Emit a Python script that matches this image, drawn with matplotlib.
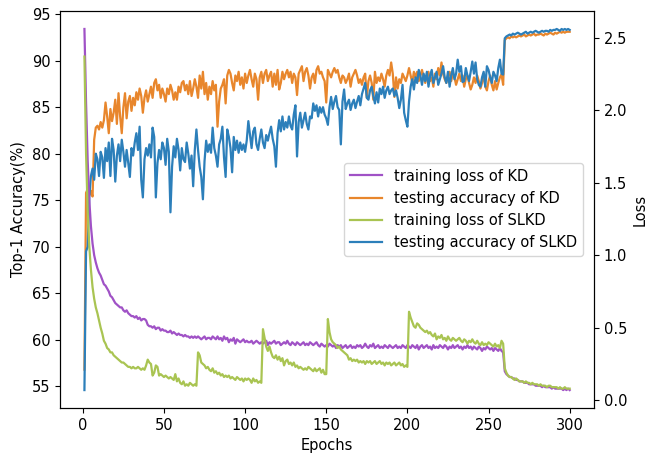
import numpy as np
import matplotlib
matplotlib.use('Agg')
import matplotlib.pyplot as plt

plt.rcParams['font.size'] = 10.5

# valores, una fila = 10 epocas
acc_kd = [
    56.8, 75.8, 76.2, 75.5, 76.0, 75.4, 81.5, 82.8, 83.0, 82.6,
    83.4, 82.8, 83.6, 85.5, 84.0, 82.2, 84.8, 83.5, 84.4, 85.8,
    83.2, 86.5, 84.0, 82.2, 85.0, 86.5, 83.8, 85.6, 86.2, 84.6,
    86.0, 85.2, 86.6, 85.8, 87.0, 86.2, 84.4, 86.0, 86.8, 85.6,
    86.4, 87.2, 86.0, 87.6, 88.0, 86.8, 87.4, 86.0, 87.0, 86.4,
    85.6, 87.0, 86.4, 87.4, 86.8, 85.8, 86.6, 85.8, 87.2, 86.6,
    87.6, 87.8, 86.8, 87.4, 86.4, 87.8, 86.2, 87.0, 88.0, 87.2,
    86.0, 88.4, 87.0, 88.8, 86.4, 87.6, 85.8, 87.2, 86.4, 87.8,
    86.8, 87.4, 82.9, 85.6, 87.0, 87.4, 88.0, 85.4, 88.4, 89.0,
    88.6, 87.6, 86.8, 88.4, 87.8, 88.8, 87.4, 88.2, 87.0, 88.6,
    87.6, 88.4, 89.0, 88.0, 87.2, 88.6, 88.0, 85.8, 88.2, 88.8,
    87.6, 88.6, 89.0, 87.8, 88.4, 88.8, 87.2, 88.6, 87.4, 89.0,
    86.9, 87.6, 88.8, 88.0, 88.6, 89.0, 88.2, 88.8, 87.6, 88.6,
    88.2, 86.3, 88.6, 89.0, 89.4, 87.8, 88.8, 89.2, 88.4, 87.0,
    88.2, 88.6, 87.6, 89.0, 89.4, 88.6, 88.8, 88.2, 87.8, 85.5,
    89.0, 88.6, 88.2, 88.8, 89.2, 88.7, 89.0, 88.2, 87.6, 88.4,
    88.2, 87.6, 88.0, 88.6, 87.2, 88.2, 88.6, 89.0, 88.4, 87.6,
    88.0, 87.4, 88.2, 88.6, 86.0, 87.8, 88.4, 87.6, 85.8, 88.8,
    87.6, 88.2, 87.8, 88.6, 88.0, 87.2, 88.4, 89.0, 88.4, 89.8,
    88.6, 86.1, 88.2, 87.0, 88.0, 87.6, 88.6, 88.2, 87.8, 88.4,
    89.2, 88.4, 87.6, 88.8, 88.2, 88.8, 87.8, 88.4, 89.0, 88.2,
    87.6, 88.4, 88.8, 87.8, 88.2, 87.2, 88.6, 88.0, 89.2, 88.4,
    89.8, 88.6, 88.0, 87.6, 88.4, 88.8, 87.8, 88.6, 88.2, 87.4,
    88.0, 88.6, 87.8, 88.4, 87.2, 88.0, 88.4, 87.6, 86.9, 87.4,
    88.2, 87.6, 88.4, 87.8, 87.0, 87.6, 88.6, 87.2, 86.8, 87.8,
    88.4, 87.4, 86.8, 87.8, 86.9, 87.6, 88.2, 88.5, 87.4, 92.2,
    92.4, 92.5, 92.4, 92.6, 92.5, 92.6, 92.5, 92.6, 92.7, 92.6,
    92.7, 92.8, 92.6, 92.7, 92.8, 92.7, 92.8, 92.9, 92.7, 92.8,
    92.8, 92.9, 92.8, 92.7, 92.9, 92.8, 92.9, 93.0, 92.9, 92.8,
    93.0, 92.9, 93.0, 93.1, 93.0, 93.1, 93.0, 93.1, 93.1, 93.1,
]

acc_slkd = [
    54.6, 69.5, 70.0, 75.4, 77.6, 78.4, 77.2, 80.0, 79.4, 77.6,
    80.2, 79.6, 77.4, 80.6, 79.2, 81.2, 77.6, 81.6, 80.4, 77.0,
    79.8, 81.0, 79.2, 81.5, 80.2, 78.6, 80.4, 79.0, 77.5, 80.6,
    79.8, 81.2, 82.2, 80.4, 82.9, 77.2, 75.3, 79.4, 80.6, 79.8,
    81.0, 79.6, 82.8, 81.8, 75.3, 79.0, 80.4, 79.4, 81.2, 80.6,
    78.8, 81.6, 80.2, 73.7, 78.6, 80.8, 79.6, 81.6, 80.4, 78.2,
    80.6, 79.4, 79.1, 81.2, 80.0, 78.4, 79.8, 76.5, 80.4, 82.6,
    80.4, 78.6, 77.5, 75.1, 79.2, 81.4, 80.2, 81.0, 80.1, 82.8,
    80.6, 79.8, 78.6, 81.0, 81.6, 82.9, 79.6, 77.5, 82.6, 81.8,
    80.6, 78.0, 81.8, 80.4, 81.4, 80.1, 81.2, 80.4, 81.0, 80.2,
    81.4, 83.5, 82.0, 80.6, 82.4, 82.8, 81.0, 80.4, 81.6, 82.6,
    81.2, 80.6, 82.0, 81.4, 82.2, 82.9, 81.6, 80.8, 78.6, 82.2,
    83.6, 82.4, 84.0, 82.6, 83.4, 82.8, 84.0, 83.0, 82.6, 84.2,
    85.2, 79.7, 83.4, 84.4, 82.8, 83.6, 84.4, 83.2, 82.6, 84.0,
    83.8, 85.4, 84.6, 85.2, 84.0, 85.0, 84.4, 85.0, 84.2, 83.8,
    83.1, 85.0, 86.1, 84.8, 85.6, 86.2, 85.0, 84.7, 81.0, 85.6,
    86.9, 84.8, 85.4, 85.8, 84.7, 85.4, 85.8, 84.9, 85.6, 86.2,
    85.2, 86.4, 87.0, 87.6, 86.0, 85.8, 86.8, 87.2, 86.2, 85.4,
    86.6, 85.5, 87.0, 86.4, 87.2, 86.0, 86.8, 87.2, 86.4, 86.8,
    87.0, 86.2, 86.8, 86.0, 84.9, 85.8, 87.4, 84.4, 83.6, 82.9,
    85.6, 87.2, 88.0, 86.9, 88.2, 87.6, 89.0, 88.4, 87.4, 88.6,
    87.8, 88.8, 87.2, 88.4, 89.0, 87.6, 88.2, 88.8, 87.4, 88.0,
    88.6, 89.4, 88.2, 87.6, 88.8, 87.2, 88.4, 89.2, 88.0, 88.6,
    90.1, 88.8, 89.4, 87.7, 87.8, 89.2, 88.4, 87.8, 88.8, 89.9,
    88.6, 89.8, 88.0, 87.4, 87.2, 88.2, 88.8, 87.2, 89.4, 89.0,
    88.2, 87.6, 88.8, 88.4, 87.8, 89.2, 90.1, 88.6, 88.5, 92.4,
    92.6, 92.7, 92.8, 92.7, 92.9, 92.8, 92.9, 93.0, 92.9, 92.8,
    92.9, 93.0, 93.1, 92.9, 93.0, 93.1, 93.0, 93.1, 93.2, 93.1,
    93.0, 93.1, 93.2, 93.1, 93.2, 93.2, 93.1, 93.3, 93.2, 93.3,
    93.3, 93.4, 93.3, 93.2, 93.4, 93.3, 93.4, 93.3, 93.4, 93.3,
]

loss_kd = [
    2.56, 2.05, 1.65, 1.38, 1.20, 1.08, 1.00, 0.95, 0.91, 0.88,
    0.86, 0.83, 0.80, 0.79, 0.77, 0.75, 0.72, 0.71, 0.69, 0.67,
    0.66, 0.65, 0.64, 0.64, 0.62, 0.61, 0.62, 0.60, 0.59, 0.58,
    0.58, 0.57, 0.58, 0.56, 0.57, 0.55, 0.56, 0.56, 0.55, 0.52,
    0.51, 0.51, 0.50, 0.51, 0.49, 0.50, 0.50, 0.48, 0.49, 0.48,
    0.48, 0.47, 0.47, 0.48, 0.46, 0.47, 0.46, 0.45, 0.46, 0.45,
    0.45, 0.44, 0.45, 0.44, 0.44, 0.43, 0.44, 0.43, 0.44, 0.43,
    0.44, 0.43, 0.42, 0.43, 0.44, 0.42, 0.43, 0.43, 0.42, 0.44,
    0.43, 0.42, 0.44, 0.42, 0.43, 0.41, 0.44, 0.42, 0.43, 0.40,
    0.42, 0.41, 0.43, 0.39, 0.42, 0.41, 0.40, 0.41, 0.42, 0.40,
    0.41, 0.40, 0.40, 0.41, 0.39, 0.40, 0.41, 0.40, 0.39, 0.40,
    0.39, 0.40, 0.41, 0.38, 0.40, 0.39, 0.40, 0.41, 0.39, 0.40,
    0.40, 0.38, 0.39, 0.40, 0.39, 0.41, 0.39, 0.38, 0.40, 0.39,
    0.38, 0.40, 0.39, 0.38, 0.39, 0.40, 0.38, 0.39, 0.38, 0.40,
    0.39, 0.38, 0.39, 0.40, 0.38, 0.37, 0.39, 0.38, 0.37, 0.38,
    0.37, 0.39, 0.38, 0.37, 0.38, 0.36, 0.38, 0.37, 0.38, 0.36,
    0.37, 0.38, 0.36, 0.37, 0.38, 0.36, 0.37, 0.36, 0.38, 0.37,
    0.38, 0.36, 0.37, 0.39, 0.37, 0.36, 0.38, 0.37, 0.39, 0.36,
    0.37, 0.38, 0.36, 0.37, 0.36, 0.38, 0.37, 0.36, 0.38, 0.37,
    0.36, 0.37, 0.38, 0.36, 0.37, 0.36, 0.38, 0.37, 0.36, 0.38,
    0.37, 0.36, 0.38, 0.37, 0.36, 0.38, 0.35, 0.37, 0.38, 0.36,
    0.37, 0.38, 0.36, 0.37, 0.35, 0.38, 0.36, 0.37, 0.36, 0.38,
    0.37, 0.36, 0.38, 0.37, 0.35, 0.37, 0.36, 0.38, 0.36, 0.37,
    0.38, 0.36, 0.37, 0.35, 0.37, 0.36, 0.38, 0.36, 0.37, 0.35,
    0.37, 0.36, 0.35, 0.37, 0.36, 0.34, 0.36, 0.35, 0.37, 0.36,
    0.35, 0.36, 0.34, 0.36, 0.35, 0.34, 0.36, 0.34, 0.33, 0.20,
    0.18, 0.17, 0.16, 0.16, 0.15, 0.15, 0.14, 0.14, 0.13, 0.13,
    0.13, 0.12, 0.12, 0.12, 0.11, 0.11, 0.11, 0.11, 0.10, 0.10,
    0.10, 0.10, 0.09, 0.10, 0.09, 0.09, 0.09, 0.09, 0.08, 0.09,
    0.08, 0.08, 0.08, 0.08, 0.08, 0.07, 0.08, 0.07, 0.08, 0.07,
]

loss_slkd = [
    2.37, 1.70, 1.30, 1.06, 0.90, 0.78, 0.70, 0.64, 0.60, 0.55,
    0.50, 0.46, 0.41, 0.39, 0.36, 0.35, 0.33, 0.33, 0.31, 0.30,
    0.29, 0.28, 0.27, 0.26, 0.26, 0.25, 0.24, 0.23, 0.23, 0.22,
    0.23, 0.22, 0.22, 0.23, 0.22, 0.21, 0.22, 0.21, 0.24, 0.28,
    0.26, 0.25, 0.17, 0.19, 0.24, 0.23, 0.17, 0.18, 0.17, 0.16,
    0.17, 0.16, 0.15, 0.16, 0.15, 0.14, 0.18, 0.13, 0.15, 0.12,
    0.11, 0.13, 0.10, 0.11, 0.10, 0.12, 0.11, 0.10, 0.11, 0.10,
    0.33, 0.31, 0.26, 0.25, 0.24, 0.22, 0.23, 0.21, 0.20, 0.22,
    0.19, 0.20, 0.18, 0.19, 0.17, 0.18, 0.16, 0.17, 0.16, 0.17,
    0.15, 0.16, 0.15, 0.14, 0.16, 0.15, 0.14, 0.15, 0.13, 0.15,
    0.14, 0.15, 0.14, 0.12, 0.15, 0.13, 0.14, 0.12, 0.13, 0.12,
    0.49, 0.43, 0.37, 0.34, 0.37, 0.33, 0.30, 0.29, 0.31, 0.28,
    0.30, 0.27, 0.29, 0.24, 0.27, 0.28, 0.25, 0.26, 0.24, 0.26,
    0.23, 0.24, 0.22, 0.23, 0.22, 0.21, 0.22, 0.21, 0.23, 0.22,
    0.21, 0.20, 0.22, 0.20, 0.21, 0.22, 0.19, 0.21, 0.18, 0.18,
    0.56, 0.47, 0.42, 0.40, 0.39, 0.38, 0.36, 0.37, 0.35, 0.34,
    0.33, 0.32, 0.31, 0.28, 0.29, 0.27, 0.28, 0.27, 0.28, 0.26,
    0.27, 0.26, 0.27, 0.25, 0.27, 0.26, 0.27, 0.25, 0.26, 0.27,
    0.25, 0.26, 0.27, 0.25, 0.26, 0.24, 0.26, 0.25, 0.26, 0.24,
    0.25, 0.26, 0.24, 0.25, 0.26, 0.24, 0.25, 0.23, 0.24, 0.23,
    0.61, 0.57, 0.54, 0.51, 0.50, 0.53, 0.52, 0.50, 0.49, 0.48,
    0.47, 0.48, 0.46, 0.47, 0.45, 0.44, 0.46, 0.42, 0.44, 0.43,
    0.45, 0.42, 0.43, 0.41, 0.44, 0.42, 0.41, 0.43, 0.42, 0.41,
    0.42, 0.43, 0.41, 0.40, 0.42, 0.41, 0.39, 0.41, 0.40, 0.42,
    0.40, 0.39, 0.41, 0.39, 0.38, 0.40, 0.38, 0.39, 0.38, 0.40,
    0.39, 0.38, 0.37, 0.39, 0.37, 0.38, 0.36, 0.41, 0.39, 0.22,
    0.19, 0.17, 0.16, 0.16, 0.15, 0.14, 0.15, 0.14, 0.13, 0.13,
    0.13, 0.12, 0.13, 0.12, 0.12, 0.11, 0.12, 0.11, 0.11, 0.11,
    0.10, 0.11, 0.10, 0.10, 0.10, 0.09, 0.10, 0.10, 0.09, 0.09,
    0.09, 0.09, 0.08, 0.09, 0.08, 0.08, 0.09, 0.08, 0.08, 0.08,
]

epochs = np.arange(1, len(acc_kd) + 1)

fig, ax1 = plt.subplots(figsize=(6.47, 4.55), dpi=100)
fig.subplots_adjust(left=0.093, right=0.918, top=0.976, bottom=0.103)
ax2 = ax1.twinx()

l2, = ax1.plot(epochs, acc_kd, color='#e8862c', lw=1.6, label='testing accuracy of KD')
l4, = ax1.plot(epochs, acc_slkd, color='#2c7fba', lw=1.6, label='testing accuracy of SLKD')
l1, = ax2.plot(epochs, loss_kd, color='#a052c6', lw=1.6, label='training loss of KD')
l3, = ax2.plot(epochs, loss_slkd, color='#a9c452', lw=1.6, label='training loss of SLKD')

ax1.set_xlabel('Epochs')
ax1.set_ylabel('Top-1 Accuracy(%)')
ax2.set_ylabel('Loss')
ax1.set_xticks(range(0, 301, 50))
ax1.set_yticks(range(55, 96, 5))
ax2.set_yticks([0.0, 0.5, 1.0, 1.5, 2.0, 2.5])

ax2.legend(handles=[l1, l2, l3, l4], loc='center right',
           bbox_to_anchor=(0.993, 0.5), handlelength=2.2)

fig.savefig('out.png', dpi=100)
